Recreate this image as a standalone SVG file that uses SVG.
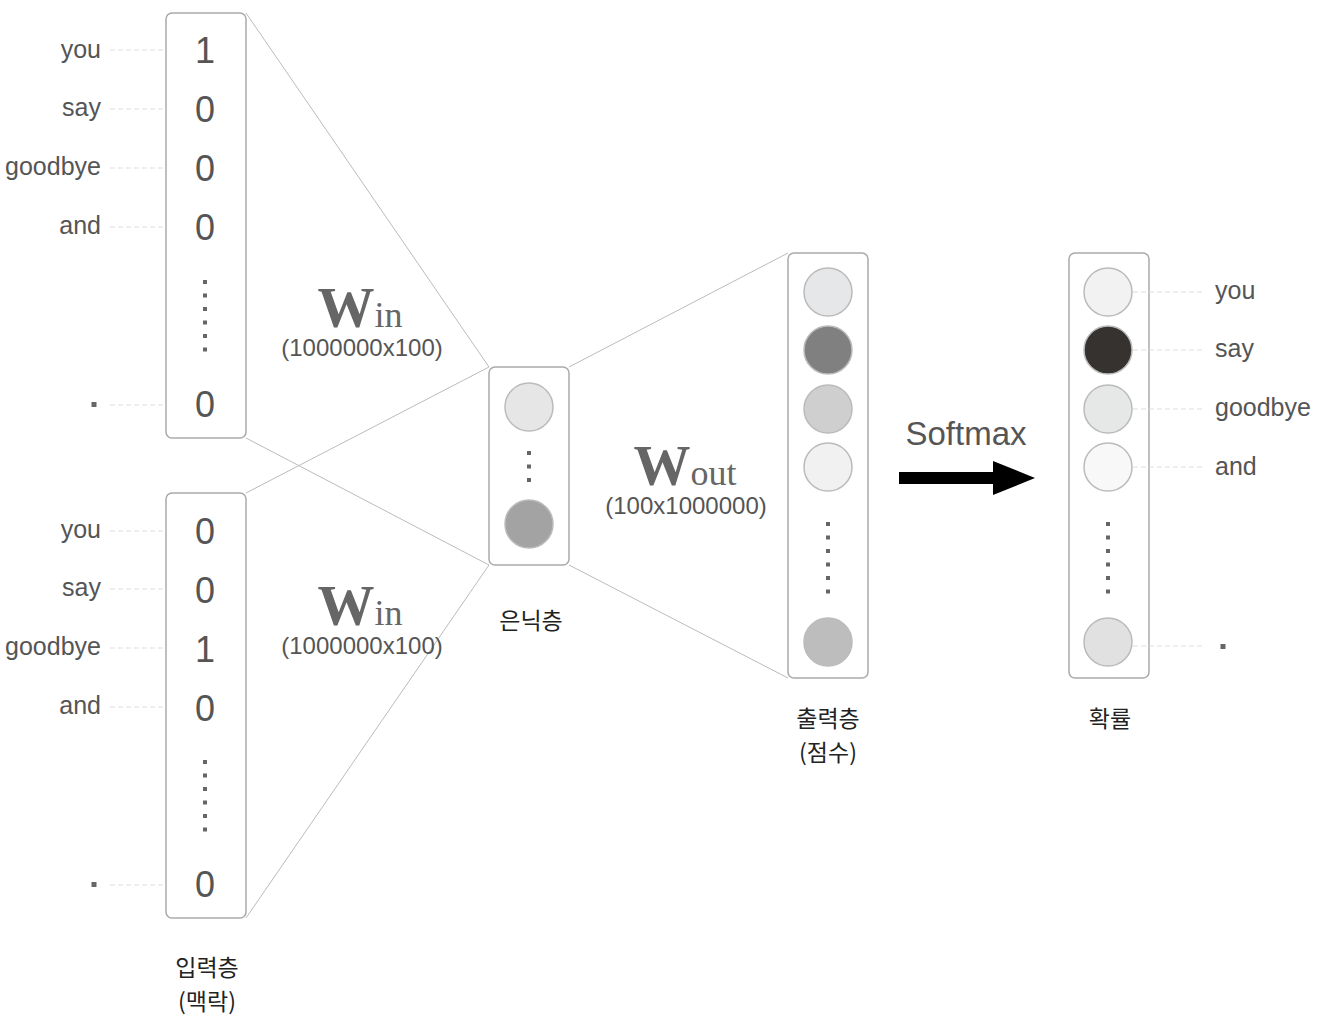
<svg xmlns="http://www.w3.org/2000/svg" width="1318" height="1018" viewBox="0 0 1318 1018">
<style>
.box{fill:#fff;stroke:#aaa;stroke-width:1.5}
.conn{stroke:#bbb;stroke-width:1;fill:none}
.dash{stroke:#ddd;stroke-width:1;stroke-dasharray:5 3;fill:none}
.word{font-family:"Liberation Sans",Arial,sans-serif;font-size:25px;fill:#555}
.digit{font-family:"Liberation Sans",Arial,sans-serif;font-size:36px;fill:#555;text-anchor:middle}
.dim{font-family:"Liberation Sans",Arial,sans-serif;font-size:24px;fill:#555;text-anchor:middle}
.kr{font-family:"Noto Sans CJK KR","Noto Sans",sans-serif;font-size:23px;fill:#222;text-anchor:middle}
.wb{font-family:"Liberation Serif","Times New Roman",serif;font-weight:bold;font-size:57px;fill:#666}
.ws{font-family:"Liberation Serif","Times New Roman",serif;font-size:36px;fill:#666}
.dot{fill:#666}
.c{stroke:#bbb;stroke-width:1.5}
</style>
<defs>
<g id="vdots"><rect x="-2" y="-2" width="4" height="4"/><rect x="-2" y="11.5" width="4" height="4"/><rect x="-2" y="25" width="4" height="4"/><rect x="-2" y="38.5" width="4" height="4"/><rect x="-2" y="52" width="4" height="4"/><rect x="-2" y="65.5" width="4" height="4"/></g>
</defs>
<g id="connectors">
<line class="conn" x1="246" y1="13" x2="489" y2="367"/>
<line class="conn" x1="246" y1="438" x2="489" y2="565"/>
<line class="conn" x1="246" y1="493" x2="489" y2="367"/>
<line class="conn" x1="246" y1="918" x2="489" y2="565"/>
<line class="conn" x1="569" y1="367" x2="788" y2="253"/>
<line class="conn" x1="569" y1="565" x2="788" y2="678"/>
<g id="softmax-arrow">
<rect x="899" y="472" width="96" height="12" fill="#000"/>
<polygon points="993,461 1035,478 993,495" fill="#000"/>
</g>
</g>
<g id="input1">
<rect class="box" x="166" y="13" width="80" height="425" rx="6"/>
<line class="dash" x1="110" y1="50" x2="166" y2="50"/>
<line class="dash" x1="110" y1="109" x2="166" y2="109"/>
<line class="dash" x1="110" y1="168" x2="166" y2="168"/>
<line class="dash" x1="110" y1="227" x2="166" y2="227"/>
<line class="dash" x1="110" y1="405" x2="166" y2="405"/>
<text class="word" x="101" y="58" text-anchor="end">you</text>
<text class="word" x="101" y="116" text-anchor="end">say</text>
<text class="word" x="101" y="175" text-anchor="end">goodbye</text>
<text class="word" x="101" y="234" text-anchor="end">and</text>
<rect class="dot" x="91.5" y="402" width="5" height="5"/>
<text class="digit" x="205" y="63">1</text>
<text class="digit" x="205" y="122">0</text>
<text class="digit" x="205" y="181">0</text>
<text class="digit" x="205" y="240">0</text>
<use href="#vdots" class="dot" x="205" y="282"/>
<text class="digit" x="205" y="417">0</text>
</g>
<g id="input2">
<rect class="box" x="166" y="493" width="80" height="425" rx="6"/>
<line class="dash" x1="110" y1="531" x2="166" y2="531"/>
<line class="dash" x1="110" y1="589" x2="166" y2="589"/>
<line class="dash" x1="110" y1="648" x2="166" y2="648"/>
<line class="dash" x1="110" y1="707" x2="166" y2="707"/>
<line class="dash" x1="110" y1="885" x2="166" y2="885"/>
<text class="word" x="101" y="538" text-anchor="end">you</text>
<text class="word" x="101" y="596" text-anchor="end">say</text>
<text class="word" x="101" y="655" text-anchor="end">goodbye</text>
<text class="word" x="101" y="714" text-anchor="end">and</text>
<rect class="dot" x="91.5" y="882" width="5" height="5"/>
<text class="digit" x="205" y="544">0</text>
<text class="digit" x="205" y="603">0</text>
<text class="digit" x="205" y="662">1</text>
<text class="digit" x="205" y="721">0</text>
<use href="#vdots" class="dot" x="205" y="762"/>
<text class="digit" x="205" y="897">0</text>
<text class="kr" x="207" y="976">입력층</text>
<text class="kr" x="207" y="1010">(맥락)</text>
</g>
<g id="win1">
<text x="360" y="327" text-anchor="middle"><tspan class="wb">W</tspan><tspan class="ws">in</tspan></text>
<text class="dim" x="362" y="356">(1000000x100)</text>
</g>
<g id="win2">
<text x="360" y="625" text-anchor="middle"><tspan class="wb">W</tspan><tspan class="ws">in</tspan></text>
<text class="dim" x="362" y="654">(1000000x100)</text>
</g>
<g id="wout">
<text x="685" y="485" text-anchor="middle"><tspan class="wb">W</tspan><tspan class="ws">out</tspan></text>
<text class="dim" x="686" y="514">(100x1000000)</text>
</g>
<g id="hidden">
<rect class="box" x="489" y="367" width="80" height="198" rx="6"/>
<circle class="c" cx="529" cy="407" r="24" fill="#e6e6e6"/>
<rect class="dot" x="527" y="451" width="4" height="4"/>
<rect class="dot" x="527" y="464.5" width="4" height="4"/>
<rect class="dot" x="527" y="478" width="4" height="4"/>
<circle class="c" cx="529" cy="524" r="24" fill="#a3a3a3"/>
<text class="kr" x="531" y="629">은닉층</text>
</g>
<g id="output">
<rect class="box" x="788" y="253" width="80" height="425" rx="6"/>
<circle class="c" cx="828" cy="292" r="24" fill="#e6e7e9"/>
<circle class="c" cx="828" cy="350" r="24" fill="#808080"/>
<circle class="c" cx="828" cy="409" r="24" fill="#cfcfcf"/>
<circle class="c" cx="828" cy="467" r="24" fill="#f1f1f1"/>
<use href="#vdots" class="dot" x="828" y="524"/>
<circle class="c" cx="828" cy="642" r="24" fill="#bdbdbd"/>
<text class="kr" x="828" y="727">출력층</text>
<text class="kr" x="828" y="761">(점수)</text>
</g>
<g id="softmax-label">
<text x="966" y="445" text-anchor="middle" font-family="Liberation Sans,Arial,sans-serif" font-size="33" fill="#555">Softmax</text>
</g>
<g id="prob">
<rect class="box" x="1069" y="253" width="80" height="425" rx="6"/>
<line class="dash" x1="1133" y1="292" x2="1205" y2="292"/>
<line class="dash" x1="1133" y1="350" x2="1205" y2="350"/>
<line class="dash" x1="1133" y1="409" x2="1205" y2="409"/>
<line class="dash" x1="1133" y1="467" x2="1205" y2="467"/>
<line class="dash" x1="1133" y1="646" x2="1205" y2="646"/>
<circle class="c" cx="1108" cy="292" r="24" fill="#f2f2f2"/>
<circle class="c" cx="1108" cy="350" r="24" fill="#35322f"/>
<circle class="c" cx="1108" cy="409" r="24" fill="#e6e7e7"/>
<circle class="c" cx="1108" cy="467" r="24" fill="#f8f8f8"/>
<use href="#vdots" class="dot" x="1108" y="524"/>
<circle class="c" cx="1108" cy="642" r="24" fill="#e1e1e1"/>
<text class="word" x="1215" y="299">you</text>
<text class="word" x="1215" y="357">say</text>
<text class="word" x="1215" y="416">goodbye</text>
<text class="word" x="1215" y="475">and</text>
<rect class="dot" x="1220.5" y="644" width="5" height="5"/>
<text class="kr" x="1110" y="727">확률</text>
</g>
</svg>
